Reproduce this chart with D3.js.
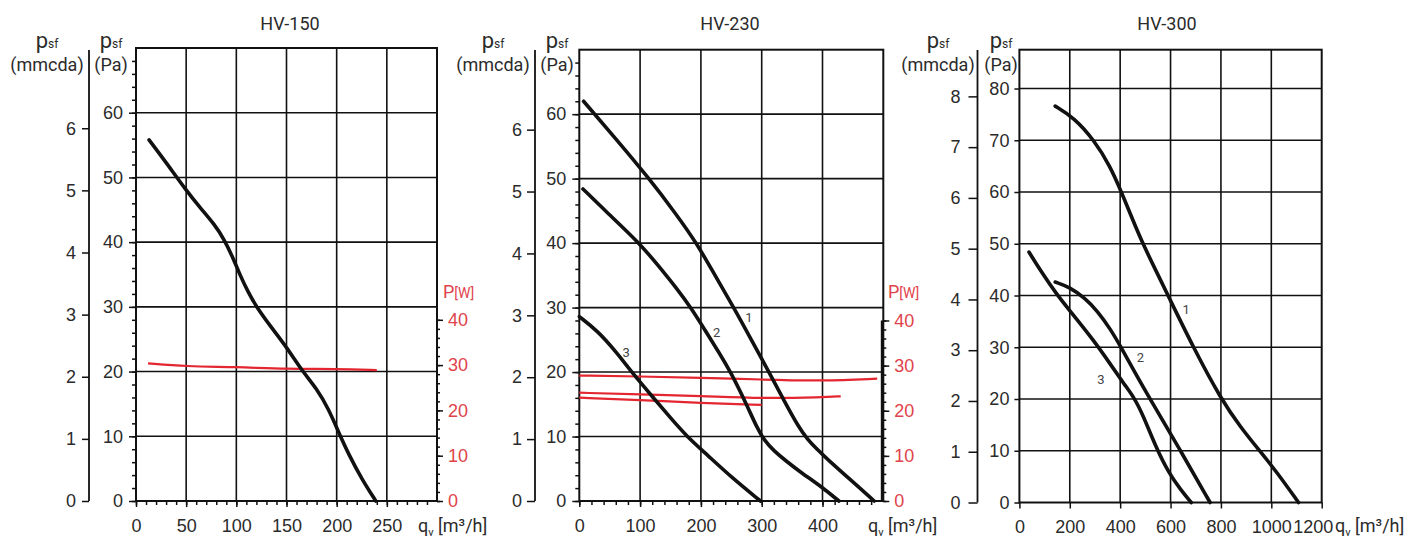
<!DOCTYPE html>
<html>
<head>
<meta charset="utf-8">
<script src="https://cdn.jsdelivr.net/npm/d3@7"></script>
<style>
  body { margin: 0; background: #fff; }
  svg { font-family: Roboto, "Noto Sans", sans-serif; }
</style>
</head>
<body>
<div id="chart"></div>
<script>
// Panel titles
var titles = ["HV-150", "HV-230", "HV-300"];

// HV-150 pressure curve (q in m3/h, p in Pa)
var hv150Flow = [13, 30, 50, 64, 78, 88, 96, 104, 112, 120, 135, 150, 166, 180, 192, 202, 212, 225, 239];
var hv150Pressure = [55.8, 52.3, 48.0, 45.3, 42.8, 40.4, 37.8, 34.8, 32.2, 30.0, 26.8, 23.8, 20, 17.4, 14.2, 10.6, 7.2, 3.4, 0];
// HV-150 power curve (W)
var hv150PowerFlow = [12, 50, 100, 150, 200, 240];
var hv150Power = [30.4, 29.7, 29.6, 29.1, 29.2, 28.9];

// HV-230 pressure curves 1, 2, 3
var hv230Flow1 = [7, 60, 115, 160, 193, 225, 254, 283, 312, 340, 360, 375, 390, 410, 440, 485];
var hv230Pressure1 = [62.0, 56.2, 50, 44.4, 40, 34.7, 30, 25, 20, 15, 11.6, 9.6, 8.1, 6.3, 3.8, 0];
var hv230Flow2 = [6, 45, 99, 130, 160, 185, 210, 230, 249, 275, 292, 305, 320, 340, 365, 400, 427];
var hv230Pressure2 = [48.4, 44.8, 40, 36.5, 33.0, 29.8, 26.0, 23.0, 20, 15, 11.4, 9.3, 7.8, 6.2, 4.4, 2.1, 0];
var hv230Flow3 = [0, 30, 60, 86, 120, 150, 177, 210, 250, 298];
var hv230Pressure3 = [28.6, 26.4, 23.2, 20, 16.2, 12.9, 10, 7.2, 3.7, 0];
// HV-230 power curves (W)
var hv230PowerFlowA = [0, 100, 200, 300, 400, 490];
var hv230PowerA = [27.8, 27.6, 27.3, 26.9, 26.6, 27.1];
var hv230PowerFlowB = [0, 100, 200, 300, 400, 430];
var hv230PowerB = [24.0, 23.6, 23.3, 22.7, 23.0, 23.2];
var hv230PowerFlowC = [0, 100, 200, 300];
var hv230PowerC = [22.9, 22.4, 21.7, 21.3];

// HV-300 pressure curves 1, 2, 3
var hv300Flow1 = [142, 216, 297, 360, 405, 450, 490, 540, 590, 690, 800, 880, 950, 1020, 1108];
var hv300Pressure1 = [76.6, 74.4, 70, 65, 60, 54.6, 50, 45, 40, 30, 20, 14.4, 10.2, 6, 0];
var hv300Flow2 = [142, 200, 260, 310, 360, 405, 460, 520, 635, 757];
var hv300Pressure2 = [42.6, 41.6, 39.5, 37, 33.6, 29.9, 25, 19.9, 10.4, 0];
var hv300Flow3 = [38, 81, 148, 203, 297, 360, 420, 455, 490, 540, 594, 640, 682];
var hv300Pressure3 = [48.4, 45.0, 40.2, 36.9, 31.2, 26.8, 22.6, 20.3, 17, 10.9, 5.6, 2.5, 0];

// curve number labels
var curveNames = ["1", "2", "3"];
var hv230LabelFlow = [279, 226, 77];
var hv230LabelPressure = [28.5, 26.2, 23.1];
var hv300LabelFlow = [662, 480, 324];
var hv300LabelPressure = [37.4, 28.0, 23.7];

// tick values
var hv150XTicks = [0, 50, 100, 150, 200, 250];
var hv230XTicks = [0, 100, 200, 300, 400];
var hv300XTicks = [0, 200, 400, 600, 800, 1000, 1200];
var paTicks60 = [0, 10, 20, 30, 40, 50, 60];
var paTicks80 = [0, 10, 20, 30, 40, 50, 60, 70, 80];
var mmcdaTicks6 = [0, 1, 2, 3, 4, 5, 6];
var mmcdaTicks8 = [0, 1, 2, 3, 4, 5, 6, 7, 8];
var powerTicks = [0, 10, 20, 30, 40];

function zip(xs, ys) {
  return xs.map(function (d, i) { return { q: d, v: ys[i] }; });
}

var panels = [
  {
    title: titles[0], left: 136, right: 437, top: 48, bottom: 501,
    xMax: 300, yMax: 70, mmX: 89, mmFactor: 9.6, mmTop: 50,
    xTicks: hv150XTicks, xMinor: 10, yTicks: paTicks60, yMinor: 2, mmTicks: mmcdaTicks6,
    yTickLen: 7, yPad: 6, mmTickLen: 7, mmPad: 6,
    power: true, powerSpine: false, powerLabelX: 443,
    titleX: 290, mmLabelX: 47, paLabelX: 111, qLabelX: 418,
    curves: [zip(hv150Flow, hv150Pressure)],
    powerCurves: [zip(hv150PowerFlow, hv150Power)],
    labels: []
  },
  {
    title: titles[1], left: 579.3, right: 883.3, top: 49.7, bottom: 501,
    xMax: 500, yMax: 70, mmX: 535, mmFactor: 9.6, mmTop: 50,
    xTicks: hv230XTicks, xMinor: 20, yTicks: paTicks60, yMinor: 2, mmTicks: mmcdaTicks6,
    yTickLen: 7, yPad: 6, mmTickLen: 8, mmPad: 5,
    power: true, powerSpine: true, powerLabelX: 888,
    titleX: 730, mmLabelX: 493, paLabelX: 557, qLabelX: 868,
    curves: [zip(hv230Flow1, hv230Pressure1), zip(hv230Flow2, hv230Pressure2), zip(hv230Flow3, hv230Pressure3)],
    powerCurves: [zip(hv230PowerFlowA, hv230PowerA), zip(hv230PowerFlowB, hv230PowerB), zip(hv230PowerFlowC, hv230PowerC)],
    labels: zip(hv230LabelFlow, hv230LabelPressure)
  },
  {
    title: titles[2], left: 1019.4, right: 1321.7, top: 49.7, bottom: 502.5,
    xMax: 1200, yMax: 87.5, mmX: 977.5, mmFactor: 9.81, mmTop: 50,
    xTicks: hv300XTicks, xMinor: 0, yTicks: paTicks80, yMinor: 0, mmTicks: mmcdaTicks8,
    yTickLen: 5, yPad: 5, mmTickLen: 9, mmPad: 8,
    power: false,
    titleX: 1167, mmLabelX: 938, paLabelX: 1001, qLabelX: 1335,
    curves: [zip(hv300Flow1, hv300Pressure1), zip(hv300Flow2, hv300Pressure2), zip(hv300Flow3, hv300Pressure3)],
    powerCurves: [],
    labels: zip(hv300LabelFlow, hv300LabelPressure)
  }
];

var textColor = "#2b2b2b";
var redText = "#e0434b";
var redLine = "#e3262f";

var svg = d3.select("#chart").append("svg")
  .attr("width", 1424).attr("height", 540);

panels.forEach(drawPanel);

function styleAxis(sel, color) {
  sel.selectAll("text").attr("font-size", 18).attr("fill", color);
  sel.selectAll("line").attr("stroke", "#111").attr("stroke-width", 1.5);
  sel.select(".domain").remove();
}

function drawPanel(p) {
  var x = d3.scaleLinear().domain([0, p.xMax]).range([p.left, p.right]);
  var y = d3.scaleLinear().domain([0, p.yMax]).range([p.bottom, p.top]);
  var mm = d3.scaleLinear().domain([0, p.yMax / p.mmFactor]).range([p.bottom, p.top]);
  var w = d3.scaleLinear().domain([0, 100]).range([p.bottom, p.top]);
  var fmt = d3.format("d");
  var g = svg.append("g");

  // grid lines
  g.selectAll(".hgrid").data(p.yTicks.filter(function (d) { return d > 0; }))
    .join("line")
    .attr("x1", p.left).attr("x2", p.right)
    .attr("y1", function (d) { return y(d); }).attr("y2", function (d) { return y(d); })
    .attr("stroke", "#111").attr("stroke-width", 1.6);
  g.selectAll(".vgrid").data(p.xTicks.filter(function (d) { return d > 0 && d < p.xMax; }))
    .join("line")
    .attr("x1", function (d) { return x(d); }).attr("x2", function (d) { return x(d); })
    .attr("y1", p.top).attr("y2", p.bottom)
    .attr("stroke", "#111").attr("stroke-width", 1.6);

  // Pa axis
  if (p.yMinor) {
    g.append("g").attr("transform", "translate(" + p.left + ",0)")
      .call(d3.axisLeft(y).tickValues(d3.range(0, p.yMax, p.yMinor)).tickSize(4).tickFormat(""))
      .call(styleAxis, textColor);
  }
  g.append("g").attr("transform", "translate(" + p.left + ",0)")
    .call(d3.axisLeft(y).tickValues(p.yTicks).tickSize(p.yTickLen).tickPadding(p.yPad).tickFormat(fmt))
    .call(styleAxis, textColor);

  // q axis
  if (p.xMinor) {
    g.append("g").attr("transform", "translate(0," + p.bottom + ")")
      .call(d3.axisBottom(x).tickValues(d3.range(0, p.xMax, p.xMinor)).tickSize(4).tickFormat(""))
      .call(styleAxis, textColor);
  }
  var xa = g.append("g").attr("transform", "translate(0," + p.bottom + ")")
    .call(d3.axisBottom(x).tickValues(p.xTicks).tickSize(6).tickPadding(12).tickFormat(fmt))
    .call(styleAxis, textColor);
  xa.selectAll(".tick").filter(function (d) { return d === p.xMax; })
    .select("text").attr("dx", -9);

  // mmcda axis
  g.append("g").attr("transform", "translate(" + p.mmX + ",0)")
    .call(d3.axisLeft(mm).tickValues(p.mmTicks).tickSize(p.mmTickLen).tickPadding(p.mmPad).tickFormat(fmt))
    .call(styleAxis, textColor);
  g.append("line").attr("x1", p.mmX).attr("x2", p.mmX)
    .attr("y1", p.mmTop).attr("y2", p.bottom)
    .attr("stroke", "#111").attr("stroke-width", 1.8);

  // power axis
  if (p.power) {
    g.append("g").attr("transform", "translate(" + p.right + ",0)")
      .call(d3.axisRight(w).tickValues(d3.range(0, 41, 2)).tickSize(3).tickFormat(""))
      .call(styleAxis, redText);
    g.append("g").attr("transform", "translate(" + p.right + ",0)")
      .call(d3.axisRight(w).tickValues(powerTicks).tickSize(6).tickPadding(5))
      .call(styleAxis, redText);
    if (p.powerSpine) {
      g.append("line").attr("x1", p.right - 1).attr("x2", p.right - 1)
        .attr("y1", w(40)).attr("y2", w(0))
        .attr("stroke", "#111").attr("stroke-width", 3);
    }
    var pl = g.append("text").attr("x", p.powerLabelX).attr("y", 298)
      .attr("fill", redText).attr("font-size", 18);
    pl.append("tspan").text("P");
    pl.append("tspan").attr("font-size", 14).text("[W]");
  }

  // frame
  g.append("rect").attr("x", p.left).attr("y", p.top)
    .attr("width", p.right - p.left).attr("height", p.bottom - p.top)
    .attr("fill", "none").attr("stroke", "#111").attr("stroke-width", 2);

  // curves
  var line = d3.line()
    .x(function (d) { return x(d.q); })
    .y(function (d) { return y(d.v); })
    .curve(d3.curveBasis);
  var powerLine = d3.line()
    .x(function (d) { return x(d.q); })
    .y(function (d) { return w(d.v); })
    .curve(d3.curveBasis);

  g.selectAll(".power").data(p.powerCurves).join("path")
    .attr("d", powerLine).attr("fill", "none")
    .attr("stroke", redLine).attr("stroke-width", 2.2);
  g.selectAll(".curve").data(p.curves).join("path")
    .attr("d", line).attr("fill", "none")
    .attr("stroke", "#111").attr("stroke-width", 3.6)
    .attr("stroke-linecap", "round");

  g.selectAll(".clabel").data(p.labels).join("text")
    .attr("x", function (d) { return x(d.q); })
    .attr("y", function (d) { return y(d.v); })
    .attr("dy", "0.35em").attr("text-anchor", "middle")
    .attr("font-size", 13).attr("fill", "#444")
    .text(function (d, i) { return curveNames[i]; });

  // titles and axis names
  g.append("text").attr("x", p.titleX).attr("y", 30)
    .attr("text-anchor", "middle").attr("font-size", 18).attr("fill", textColor)
    .text(p.title);

  [p.mmLabelX, p.paLabelX].forEach(function (cx, i) {
    var t = g.append("text").attr("x", cx).attr("y", 48)
      .attr("text-anchor", "middle").attr("fill", textColor);
    t.append("tspan").attr("font-size", 22).text("p");
    t.append("tspan").attr("font-size", 12).text("sf");
    g.append("text").attr("x", cx).attr("y", 71)
      .attr("text-anchor", "middle").attr("font-size", 18).attr("fill", textColor)
      .text(i === 0 ? "(mmcda)" : "(Pa)");
  });

  var ql = g.append("text").attr("x", p.qLabelX).attr("y", 532)
    .attr("font-size", 18).attr("fill", textColor);
  ql.append("tspan").text("q");
  ql.append("tspan").attr("font-size", 11).attr("dy", 4).text("v");
  ql.append("tspan").attr("dy", -4).text(" [m³/h]");
}
</script>
</body>
</html>
